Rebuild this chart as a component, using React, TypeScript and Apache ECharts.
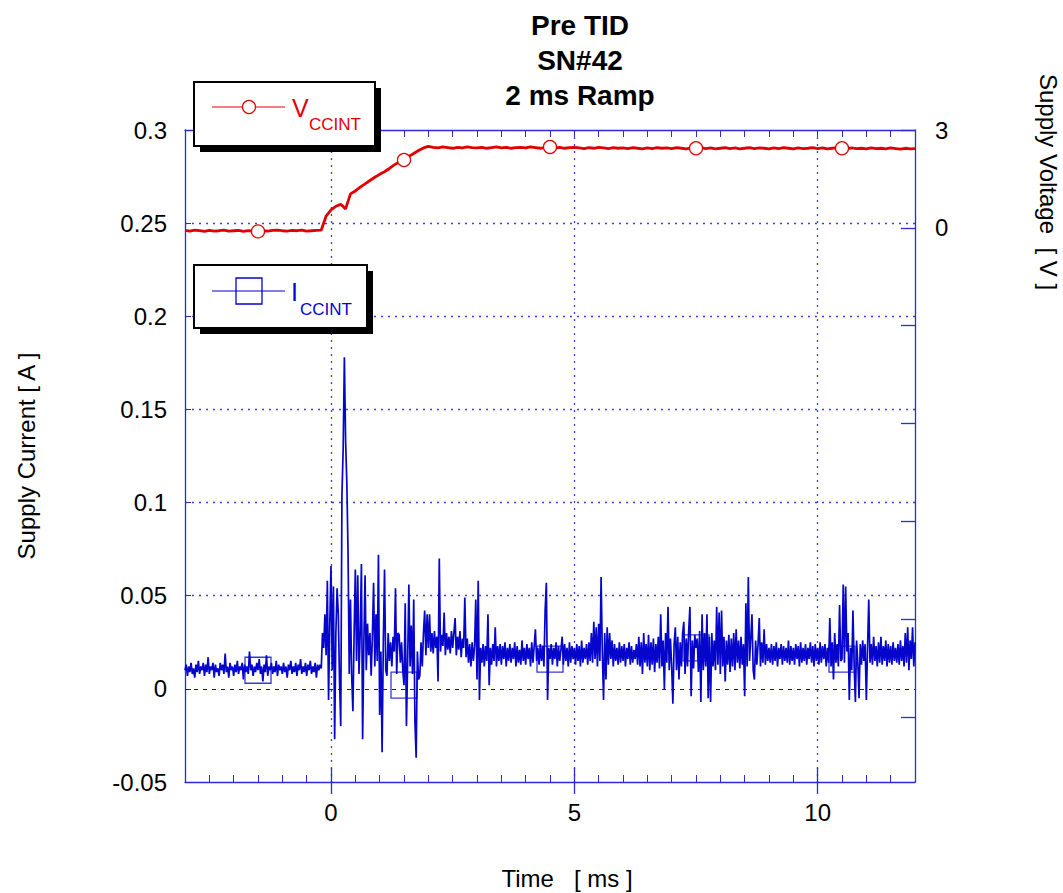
import React, { useEffect, useRef } from 'react';
import * as echarts from 'echarts';

// ---------- data ----------
const TIME_START_MS = -3;
const CURRENT_STEP_MS = 0.025;
// I_CCINT in mA, one value every 0.025 ms from -3 ms to 12 ms
const currentMA = [
  10, 13, 7, 12, 9, 14, 8, 11, 6, 13,
  9, 15, 8, 12, 10, 14, 7, 13, 9, 17,
  8, 12, 10, 14, 6, 13, 9, 11, 7, 14,
  10, 13, 8, 19, 9, 12, 6, 14, 10, 12,
  7, 13, 9, 15, 8, 12, 10, 14, 5, 13,
  9, 12, 8, 20, 10, 13, 7, 12, 9, 14,
  10, 16, 8, 12, 4, 13, 9, 18, 7, 12,
  10, 14, 8, 12, 9, 15, 7, 13, 10, 12,
  8, 14, 9, 12, 6, 13, 10, 15, 8, 12,
  9, 14, 7, 13, 10, 16, 8, 12, 9, 14,
  7, 13, 10, 15, 8, 12, 9, 14, 6, 13,
  10, 13, 11, 30, 22, 40, 18, 58, -6, 35,
  66, 10, 55, -27, 30, 54, 40, 5, -20, 104,
  129, 178, 133, 111, 74, 8, 48, 7, -12, 30,
  64, 15, 61, 8, 30, 67, -27, 25, 61, 10,
  35, 18, 30, 7, 28, 57, 12, 40, 15, 72,
  -14, 20, -34, 25, 64, 10, 7, 30, 15, 25,
  12, 28, 20, 54, 8, 30, 29, 14, 25, 10,
  2, 46, -20, 15, 56, 12, 34, 8, 48, -18,
  -37, 20, 5, 7, 25, 12, 30, 42, 18, 40,
  22, 40, 20, 30, 19, 31, 22, 28, 4, 70,
  20, 29, 23, 41, 18, 30, 21, 28, 19, 31,
  22, 30, 38, 18, 28, 21, 31, 17, 27, 22,
  49, 17, 27, 14, 24, 12, 25, 15, 23, 48,
  5, 58, -6, 22, 14, 24, 12, 23, 15, 40,
  2, 22, 13, 24, 15, 33, 12, 23, 15, 24,
  13, 23, 16, 25, 12, 22, 15, 24, 14, 22,
  16, 25, 12, 23, 14, 21, 13, 26, 15, 22,
  13, 24, 16, 22, 12, 25, 14, 23, 32, 15,
  22, 13, 24, 15, 23, 12, 42, 57, -6, 22,
  16, 24, 13, 22, 16, 25, 12, 23, 15, 21,
  28, 13, 24, 15, 22, 12, 25, 14, 23, 16,
  22, 13, 24, 15, 23, 12, 26, 14, 22, 16,
  24, 13, 25, 15, 30, 14, 36, 16, 33, 12,
  35, 15, 60, 20, -6, 30, 5, 33, 13, 30,
  16, 26, 12, 24, 15, 22, 13, 25, 14, 23,
  15, 24, 12, 22, 16, 25, 13, 23, 14, 21,
  16, 24, 13, 28, 12, 25, 8, 30, 14, 24,
  12, 29, 10, 25, 13, 27, 9, 24, 14, 28,
  11, 40, 12, 26, 0, 30, 14, 44, 10, 27,
  12, -8, 24, 33, 10, 28, 5, 25, 12, 30,
  36, 8, 27, 12, 31, 44, -4, 26, 11, 29,
  22, 27, 9, 31, -7, 40, 10, 30, 12, 40,
  -5, 28, -7, 30, 12, 26, 10, 44, 13, 41,
  8, 42, 12, 28, 4, 26, 13, 29, 9, 27,
  12, 30, 10, 32, 14, 26, 11, 28, 13, 24,
  -4, 46, 12, 60, 15, 27, 40, 10, 5, 26,
  13, 24, 38, 12, 25, 14, 32, 13, 24, 15,
  22, 14, 24, 13, 23, 15, 25, 12, 22, 16,
  24, 13, 23, 15, 22, 14, 26, 13, 23, 15,
  22, 13, 24, 16, 23, 12, 25, 14, 22, 15,
  24, 13, 22, 16, 25, 14, 23, 12, 24, 15,
  22, 13, 25, 14, 23, 16, 24, 12, 22, 14,
  38, 12, 25, 5, 30, 14, 24, 12, 45, 15,
  16, 56, 14, 55, 20, 30, -6, 22, 10, 42,
  12, -7, 26, 14, -5, 24, 13, 26, 15, 24,
  -6, 22, 48, 14, 24, 13, 28, 15, 23, 12,
  25, 14, 28, 13, 23, 15, 26, 12, 24, 14,
  23, 13, 25, 15, 22, 14, 24, 13, 26, 15,
  23, 12, 30, 14, 33, 10, 26, 16, 33, 12,
  25,
];

const VOLT_STEP_MS = 0.1;
// V_CCINT in V, one value every 0.1 ms from -3 ms to 12 ms
const voltageV = [
  -0.08, -0.10, -0.07, -0.09, -0.11, -0.08, -0.10, -0.09, -0.07, -0.10,
  -0.09, -0.08, -0.11, -0.09, -0.10, -0.11, -0.09, -0.10, -0.08, -0.07,
  -0.09, -0.10, -0.08, -0.09, -0.07, -0.10, -0.09, -0.08, -0.07, 0.36,
  0.55, 0.66, 0.72, 0.58, 1.04, 1.13, 1.25, 1.35, 1.45, 1.55,
  1.64, 1.72, 1.82, 1.93, 2.02, 2.08, 2.19, 2.28, 2.37, 2.45,
  2.50, 2.47, 2.45, 2.48, 2.46, 2.44, 2.47, 2.45, 2.48, 2.46,
  2.45, 2.47, 2.44, 2.46, 2.48, 2.45, 2.47, 2.44, 2.46, 2.47,
  2.45, 2.48, 2.46, 2.44, 2.47, 2.48, 2.45, 2.47, 2.44, 2.46,
  2.47, 2.45, 2.43, 2.46, 2.44, 2.47, 2.45, 2.43, 2.46, 2.44,
  2.45, 2.43, 2.46, 2.44, 2.42, 2.45, 2.43, 2.46, 2.44, 2.45,
  2.43, 2.46, 2.44, 2.42, 2.45, 2.44, 2.46, 2.43, 2.45, 2.42,
  2.44, 2.46, 2.43, 2.45, 2.42, 2.44, 2.46, 2.43, 2.45, 2.44,
  2.42, 2.45, 2.43, 2.46, 2.44, 2.42, 2.45, 2.43, 2.44, 2.46,
  2.43, 2.45, 2.42, 2.44, 2.46, 2.44, 2.42, 2.45, 2.43, 2.44,
  2.42, 2.45, 2.43, 2.44, 2.42, 2.45, 2.43, 2.41, 2.44, 2.42,
  2.43,
];

const markerTimesMs = [-1.5, 1.5, 4.5, 7.5, 10.5];
const xLabelValues = [0, 5, 10];
const xMajorTicks = [0, 5, 10];
const rightTickValues = [3, 0, -3, -6, -9, -12, -15];
const rightLabelValues = [3, 0];
const titleLines = ['Pre TID', 'SN#42', '2 ms Ramp'];
const xAxisTitle = 'Time   [ ms ]';
const leftAxisTitle = 'Supply Current [ A ]';
const rightAxisTitle = 'Supply Voltage  [ V ]';

// ---------- styles ----------
const FONT = 'Liberation Sans, Arial, Helvetica, sans-serif';
const AXIS_BLUE = '#2b2bd8';
const GRID_BLUE = '#3c3cec';
const TRACE_BLUE = '#0505cc';
const TRACE_RED = '#e00000';

export default function App() {
  const ref = useRef<HTMLDivElement>(null);

  useEffect(() => {
    if (!ref.current) return;
    const chart = echarts.init(ref.current, null, { renderer: 'svg' });

    const currentData = currentMA.map((v, i) => [TIME_START_MS + i * CURRENT_STEP_MS, v / 1000]);
    const voltageData = voltageV.map((v, i) => [TIME_START_MS + i * VOLT_STEP_MS, v]);
    const currentMarkers = markerTimesMs.map((t) => [
      t,
      currentMA[Math.round((t - TIME_START_MS) / CURRENT_STEP_MS)] / 1000,
    ]);
    const voltageMarkers = markerTimesMs.map((t) => [
      t,
      voltageV[Math.round((t - TIME_START_MS) / VOLT_STEP_MS)],
    ]);

    // vertical grid colours (ticks every 0.5 ms from -3 to 12)
    const xSplitColors: string[] = [];
    for (let k = 0; k <= 30; k++) {
      const v = -3 + k * 0.5;
      xSplitColors.push(xLabelValues.includes(v) ? GRID_BLUE : 'rgba(0,0,0,0)');
    }
    // horizontal grid colours (ticks every 0.05 from -0.05 to 0.3)
    const ySplitColors: string[] = [];
    for (let k = 0; k <= 7; k++) {
      const v = Math.round((-0.05 + k * 0.05) * 100) / 100;
      ySplitColors.push(v === -0.05 || v === 0 || v === 0.3 ? 'rgba(0,0,0,0)' : GRID_BLUE);
    }

    const xCommon = { type: 'value', min: -3, max: 12 };
    const noLine = { show: false, onZero: false };

    const option: any = {
      animation: false,
      backgroundColor: '#ffffff',
      grid: { left: 185, right: 148, top: 130, bottom: 111, containLabel: false, outerBoundsMode: 'none' },
      xAxis: [
        {
          ...xCommon,
          position: 'bottom',
          interval: 0.5,
          axisLine: { show: true, onZero: false, lineStyle: { color: AXIS_BLUE, width: 1.3 } },
          axisTick: { show: true, inside: true, length: 7, lineStyle: { color: AXIS_BLUE, width: 1 } },
          axisLabel: {
            show: true,
            margin: 18,
            color: '#000',
            fontSize: 24,
            fontFamily: FONT,
            formatter: (v: number) => (xLabelValues.includes(v) ? String(v) : ''),
          },
          splitLine: { show: true, lineStyle: { color: xSplitColors, type: [2, 5], width: 1.3 } },
        },
        {
          ...xCommon,
          position: 'bottom',
          axisLine: noLine,
          axisTick: { show: true, inside: false, length: 12, customValues: xMajorTicks, lineStyle: { color: AXIS_BLUE, width: 1.3 } },
          axisLabel: { show: false },
          splitLine: { show: false },
        },
        {
          ...xCommon,
          position: 'bottom',
          axisLine: noLine,
          axisTick: { show: true, inside: true, length: 14, customValues: xMajorTicks, lineStyle: { color: AXIS_BLUE, width: 1.3 } },
          axisLabel: { show: false },
          splitLine: { show: false },
        },
        {
          ...xCommon,
          position: 'top',
          interval: 0.5,
          axisLine: { show: true, onZero: false, lineStyle: { color: AXIS_BLUE, width: 1.3 } },
          axisTick: { show: true, inside: true, length: 7, lineStyle: { color: AXIS_BLUE, width: 1 } },
          axisLabel: { show: false },
          splitLine: { show: false },
        },
      ],
      yAxis: [
        {
          type: 'value',
          position: 'left',
          min: -0.05,
          max: 0.3,
          interval: 0.05,
          axisLine: { show: true, onZero: false, lineStyle: { color: AXIS_BLUE, width: 1.3 } },
          axisTick: { show: true, inside: true, length: 6, lineStyle: { color: AXIS_BLUE, width: 1 } },
          axisLabel: {
            show: true,
            margin: 18,
            color: '#000',
            fontSize: 24,
            fontFamily: FONT,
            formatter: (v: number) => String(Math.round(v * 100) / 100),
          },
          splitLine: { show: true, lineStyle: { color: ySplitColors, type: [2, 5], width: 1.3 } },
        },
        {
          type: 'value',
          position: 'right',
          min: -17,
          max: 3,
          axisLine: { show: true, onZero: false, lineStyle: { color: AXIS_BLUE, width: 1.3 } },
          axisTick: { show: true, inside: true, length: 14, customValues: rightTickValues, lineStyle: { color: AXIS_BLUE, width: 1.3 } },
          axisLabel: {
            show: true,
            customValues: rightLabelValues,
            margin: 20,
            color: '#000',
            fontSize: 24,
            fontFamily: FONT,
          },
          splitLine: { show: false },
        },
      ],
      series: [
        {
          name: 'I_CCINT markers',
          type: 'scatter',
          xAxisIndex: 0,
          yAxisIndex: 0,
          data: currentMarkers,
          symbol: 'rect',
          symbolSize: 26,
          itemStyle: { color: 'rgba(0,0,0,0)', borderColor: TRACE_BLUE, borderWidth: 1.3 },
          z: 2,
          silent: true,
        },
        {
          name: 'I_CCINT',
          type: 'line',
          xAxisIndex: 0,
          yAxisIndex: 0,
          data: currentData,
          showSymbol: false,
          symbol: 'none',
          lineStyle: { color: TRACE_BLUE, width: 1.7 },
          z: 3,
          silent: true,
          markLine: {
            silent: true,
            symbol: ['none', 'none'],
            label: { show: false },
            lineStyle: { color: '#14147a', type: [4, 5], width: 1 },
            data: [{ yAxis: 0 }],
          },
        },
        {
          name: 'V_CCINT',
          type: 'line',
          xAxisIndex: 0,
          yAxisIndex: 1,
          data: voltageData,
          showSymbol: false,
          symbol: 'none',
          lineStyle: { color: TRACE_RED, width: 2.8 },
          z: 4,
          silent: true,
        },
        {
          name: 'V_CCINT markers',
          type: 'scatter',
          xAxisIndex: 0,
          yAxisIndex: 1,
          data: voltageMarkers,
          symbol: 'circle',
          symbolSize: 13,
          itemStyle: { color: '#ffffff', borderColor: TRACE_RED, borderWidth: 1.3, opacity: 1 },
          z: 5,
          silent: true,
        },
      ],
      graphic: [
        // title
        {
          type: 'text',
          x: 580,
          y: 8,
          z: 100,
          style: {
            text: titleLines.join('\n'),
            align: 'center',
            verticalAlign: 'top',
            fontSize: 28,
            lineHeight: 35,
            fontWeight: 'bold',
            fontFamily: FONT,
            fill: '#000',
          },
        },
        // axis titles
        {
          type: 'text',
          x: 26,
          y: 456,
          rotation: Math.PI / 2,
          z: 100,
          style: { text: leftAxisTitle, align: 'center', verticalAlign: 'middle', fontSize: 24, fontFamily: FONT, fill: '#000' },
        },
        {
          type: 'text',
          x: 1048,
          y: 182,
          rotation: -Math.PI / 2,
          z: 100,
          style: { text: rightAxisTitle, align: 'center', verticalAlign: 'middle', fontSize: 24, fontFamily: FONT, fill: '#000' },
        },
        {
          type: 'text',
          x: 567,
          y: 878,
          z: 100,
          style: { text: xAxisTitle, align: 'center', verticalAlign: 'middle', fontSize: 24, fontFamily: FONT, fill: '#000' },
        },
        // legend 1 (V_CCINT)
        { type: 'rect', z: 100, shape: { x: 200, y: 88, width: 181, height: 64 }, style: { fill: '#000' } },
        { type: 'rect', z: 101, shape: { x: 194, y: 82, width: 181, height: 64 }, style: { fill: '#fff', stroke: '#000', lineWidth: 2 } },
        { type: 'line', z: 102, shape: { x1: 212, y1: 107, x2: 285, y2: 107 }, style: { stroke: TRACE_RED, lineWidth: 1.2 } },
        { type: 'circle', z: 103, shape: { cx: 249, cy: 107, r: 6.5 }, style: { fill: '#fff', stroke: TRACE_RED, lineWidth: 1.3 } },
        {
          type: 'text', z: 103, x: 292, y: 108,
          style: { text: 'V', align: 'left', verticalAlign: 'middle', fontSize: 25, fontFamily: FONT, fill: TRACE_RED },
        },
        {
          type: 'text', z: 103, x: 309, y: 124,
          style: { text: 'CCINT', align: 'left', verticalAlign: 'middle', fontSize: 17, fontFamily: FONT, fill: TRACE_RED },
        },
        // legend 2 (I_CCINT)
        { type: 'rect', z: 100, shape: { x: 200, y: 271, width: 173, height: 63 }, style: { fill: '#000' } },
        { type: 'rect', z: 101, shape: { x: 194, y: 265, width: 173, height: 63 }, style: { fill: '#fff', stroke: '#000', lineWidth: 2 } },
        { type: 'line', z: 102, shape: { x1: 212, y1: 291, x2: 285, y2: 291 }, style: { stroke: TRACE_BLUE, lineWidth: 1.2 } },
        { type: 'rect', z: 103, shape: { x: 236, y: 278, width: 26, height: 26 }, style: { fill: 'rgba(0,0,0,0)', stroke: TRACE_BLUE, lineWidth: 1.3 } },
        {
          type: 'text', z: 103, x: 291, y: 292,
          style: { text: 'I', align: 'left', verticalAlign: 'middle', fontSize: 25, fontFamily: FONT, fill: TRACE_BLUE },
        },
        {
          type: 'text', z: 103, x: 300, y: 309,
          style: { text: 'CCINT', align: 'left', verticalAlign: 'middle', fontSize: 17, fontFamily: FONT, fill: TRACE_BLUE },
        },
      ],
    };

    chart.setOption(option);
    return () => {
      chart.dispose();
    };
  }, []);

  return (
    <div
      ref={ref}
      style={{ position: 'fixed', left: 0, top: 0, width: 1063, height: 893, background: '#fff' }}
    />
  );
}
